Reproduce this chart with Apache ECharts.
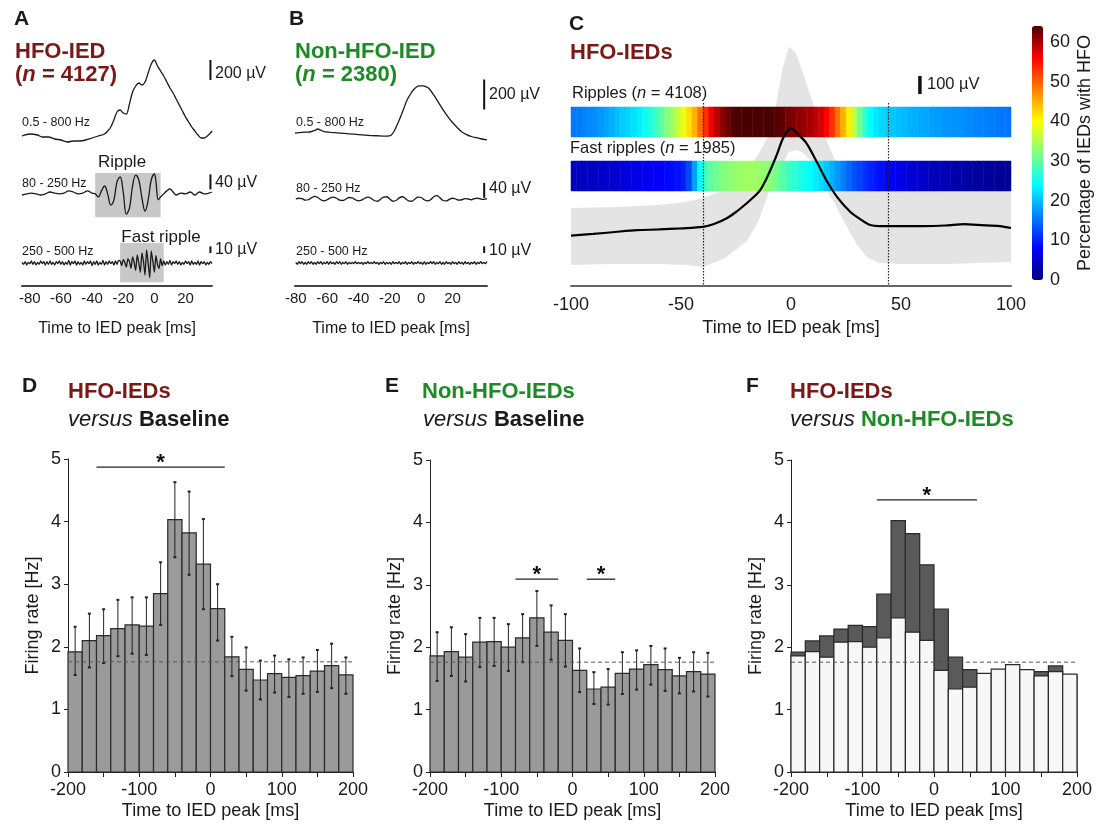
<!DOCTYPE html>
<html>
<head>
<meta charset="utf-8">
<script src="https://cdn.jsdelivr.net/npm/echarts@6/dist/echarts.min.js"></script>
<style>
html, body { margin: 0; padding: 0; background: #fff; }
#main { width: 1097px; height: 824px; }
</style>
</head>
<body>
<div id="main"></div>
<script>
// ---- panel A : HFO-IED averages (µV), times in ms ----
var tA1 = [-85,-80,-75,-72,-68,-64,-60,-56,-52,-48,-44,-40,-36,-32,-30,-28,-26,-24,-22,-20,-18,-16,-14,-12,-10,-8,-6,-4,-2,0,2,4,6,8,10,12,14,16,18,20,22,24,26,28,30,32,34,36,37];
var vA1 = [140,160,150,130,130,110,100,80,90,90,100,120,140,160,190,230,300,380,400,370,360,460,580,640,670,650,680,770,860,900,840,790,740,680,620,570,510,450,390,330,280,230,190,150,120,120,140,170,190];
var tA2 = [-85,-82,-79,-76,-73,-70,-67,-64,-61,-58,-55,-52,-49,-46,-43,-40,-38,-36,-34,-32,-30,-28,-26,-24,-22,-20,-18,-16,-14,-12,-10,-8,-6,-4,-2,0,1,2.5,4,6,8,10,12,14,17,20,23,26,29,32,35,37];
var vA2 = [0,3,5,3,0,3,8,5,3,5,11,8,3,5,11,5,3,-5,11,24,3,-27,-13,35,48,8,-51,-35,24,53,40,-8,-43,-13,40,56,35,-13,-5,3,11,16,8,0,5,3,8,0,8,3,5,8];
var A3_start = -85, A3_step = 1;
var vA3 = [1,-2,2,-3,1,-1,3,-2,2,-3, 1,-2,3,-1,2,-3,2,-2,3,-2, 1,-3,2,-1,3,-2,2,-3,1,-2,
           4,-3,2,-1,3,-3,2,-2,1,-3, 3,-2,2,-1,3,-4,2,-2,3,-3, 1,-2,4,-3,2,-2,3,-1,2,-3, 3,-2,4,
           3,-4,5,1,-6,6,2,-8,9,1, -11,12,0,-14,15,2,-18,20,0,-22, 18,3,-14,11,-2,-8,6,-4,
           3,-3,2,-2,4,-3,2,-1,3,-2, 2,-3,1,-2,3,-1,2,-3,3,-2, 1,-2,3,-3,2,-1,2,-3,1,-2, 2,-1];
var rippleWin = [-38, 4];
var fastWin = [-22, 6];

// ---- panel B : non-HFO-IED averages ----
var tB1 = [-80.5,-76,-71,-68,-66,-64,-62,-58,-52,-46,-40,-34,-28,-22,-19,-17,-15,-13,-11,-9,-7,-5,-3,-1,1,3,5,8,11,14,17,20,23,26,29,32,35,38,42];
var vB1 = [113,118,120,130,140,132,122,118,113,108,103,98,95,93,100,130,175,225,280,333,370,400,420,427,427,423,410,367,318,267,222,183,150,120,103,90,82,75,67];
var B2_start = -80, B2_step = 2;
var vB2 = [0,2,1,-3,-2,3,7,4,-2,-5,-2,3,5,2,-3,-4,0,4,3,-2,-5,-3,2,5,2,-4,-6,-1,5,6,0,-6,-4,3,6,1,-5,-6,0,5,4,-2,-5,-2,6,9,3,-4,-5,-1,2,0,-3,-2,1,0,-2,1,2,0,-1,1];
var B3_start = -80, B3_step = 1;
var vB3 = [1,-2,2,-1,2,-2,1,-2,2,-1, 2,-2,1,-2,2,-1,2,-2,1,-1, 2,-2,2,-1,1,-2,2,-1,2,-2, 1,-1,2,-2,1,-1,1,-1,2,-1,
           1,-1,1,-2,1,-1,2,-1,1,-1, 2,-1,1,-2,1,-1,2,-2,1,-1, 1,-2,2,-1,1,-1,2,-2,1,-1, 2,-2,1,-1,2,-2,1,-1,2,-1,
           1,-2,2,-2,1,-1,2,-1,2,-2, 1,-1,2,-2,1,-2,2,-1,1,-2, 2,-1,1,-2,2,-1,1,-2,2,-1, 1,-2,1,-1,2,-2,1,-1,2,-1, 1,-1,2];

// ---- panel C : mean HFO-IED (µV) with SD band, HFO occurrence (%) ----
var tC = [-100,-90,-80,-70,-60,-50,-40,-35,-29,-25,-20,-17,-14,-11,-8,-6,-4,-2,0,3,7,12,16,21,27,32,36,40,44,60,70,79,85,95,100];
var meanC = [0,9,20,30,34,40,48,64,98,131,181,214,253,320,403,464,531,575,597,564,514,403,309,214,131,87,59,53,53,53,56,64,59,53,42];
var tBand = [-100,-80,-60,-48,-40,-30,-20,-15,-10,-7,-4,-1,2,5,8,12,16,20,25,30,35,40,50,70,100];
var bandUp = [153,159,170,187,209,253,364,448,559,714,920,1048,1020,920,809,670,531,420,337,281,264,253,253,253,253];
var bandLo = [-163,-158,-158,-163,-174,-124,-30,76,242,320,392,464,476,464,431,353,253,176,59,-52,-124,-152,-158,-158,-147];
var hfoWindow = [-40, 44];
// 2.5 ms bins from -100 to 100
var rippleBins = [15.5,15.8,16.2,16.6, 17,17.5,18.2,19, 20,20.8,21.5,22.3, 23.2,24.5,26,28, 30,32,34,36.5,
                  39,42,45,49, 53,56.5,59,61, 62.5,63.5,64,64, 64,64,64,64, 64,63.5,63,62,
                  61.5,61,60.5,60, 59,58,56,53, 49,45,41,36, 31,27,24,22.5, 21.5,21,20.5,20,
                  19.7,19.3,19,18.7, 18.4,18.1,17.8,17.6, 17.4,17.2,17,16.8, 16.6,16.4,16.2,16, 15.8,15.6,15.4,15.2];
var fastBins = [4,4,4,4.2, 4.3,4.5,4.8,5, 5.3,5.6,6,6.3, 6.6,7,7.3,7.6, 8,8.3,8.6,9,
                10,12.5,18,24, 28,30,31,32, 32.5,33,33.5,34, 34,34,33.5,33, 32,31,29.5,28,
                27,26,25,24, 23,22,20.5,19, 17.5,16,14.5,13, 12,11,10,9.3, 8.6,8,7.4,6.8,
                6.2,5.7,5.2,4.8, 4.4,4,3.7,3.4, 3.1,2.9,2.7,2.5, 2.3,2.1,2,1.8, 1.7,1.5,1.4,1.3];

// ---- panels D-F : firing rates (Hz), 20 ms bins ----
var binCenters = [-190,-170,-150,-130,-110,-90,-70,-50,-30,-10,10,30,50,70,90,110,130,150,170,190];
var hfoRate  = [1.92,2.10,2.18,2.29,2.35,2.33,2.85,4.03,3.82,3.32,2.61,1.84,1.64,1.47,1.57,1.51,1.54,1.61,1.70,1.55];
var hfoErrHi = [2.32,2.53,2.60,2.75,2.79,2.79,3.35,4.63,4.48,4.04,3.00,2.16,1.99,1.78,1.86,1.80,1.83,1.95,2.05,1.83];
var hfoErrLo = [1.55,1.67,1.74,1.85,1.89,1.87,2.35,3.43,3.15,2.60,2.10,1.53,1.30,1.16,1.27,1.20,1.25,1.28,1.34,1.25];
var nonRate  = [1.86,1.93,1.84,2.08,2.09,2.00,2.15,2.47,2.24,2.11,1.63,1.33,1.36,1.58,1.65,1.72,1.64,1.54,1.61,1.57];
var nonErrHi = [2.24,2.32,2.21,2.47,2.47,2.37,2.53,2.90,2.67,2.53,1.98,1.60,1.65,1.92,1.95,2.02,1.98,1.83,1.92,1.91];
var nonErrLo = [1.46,1.54,1.45,1.68,1.70,1.62,1.76,2.02,1.80,1.69,1.28,1.09,1.08,1.25,1.32,1.40,1.30,1.26,1.29,1.21];
var baselineRate = 1.76;
var sigD = [[-160, 20, 4.87]];
var sigE = [[-80, -20, 3.09], [20, 60, 3.09]];
var sigF = [[-80, 60, 4.36]];

var FONT = 'Arial, "Liberation Sans", Helvetica, sans-serif';
var RED = '#7b1818', GREEN = '#1d8a26', INK = '#1a1a1a';
var jet = ['#000080', '#0000ff', '#0080ff', '#00ffff', '#80ff80', '#ffff00', '#ff8000', '#ff0000', '#4a0000'];

function zip(t, v) { return t.map(function (x, i) { return [x, v[i]]; }); }
function sampled(t0, dt, v) { return v.map(function (y, i) { return [t0 + i * dt, y]; }); }

var chart = echarts.init(document.getElementById('main'));

function hidden(i, min, max) { return { gridIndex: i, type: 'value', min: min, max: max, show: false }; }

function traceTime(i, min, max) {
    return {
        gridIndex: i, type: 'value', min: min, max: max, offset: 3,
        axisLine: { onZero: false, lineStyle: { color: '#444', width: 2 } },
        axisTick: { show: false }, splitLine: { show: false },
        axisLabel: { customValues: [-80, -60, -40, -20, 0, 20], fontSize: 15, color: INK, fontFamily: FONT, margin: 5 },
        name: 'Time to IED peak [ms]', nameLocation: 'middle', nameGap: 35,
        nameTextStyle: { fontSize: 16, color: INK, fontFamily: FONT }
    };
}

function rateX(i) {
    return {
        gridIndex: i, type: 'value', min: -200, max: 200, interval: 50,
        axisLine: { onZero: false, lineStyle: { color: '#222', width: 1 } },
        axisTick: { show: true, length: 5, lineStyle: { color: '#222' } },
        splitLine: { show: false },
        axisLabel: { fontSize: 18, color: INK, fontFamily: FONT, margin: 9,
            formatter: function (v) { return v % 100 === 0 ? String(v) : ''; } },
        name: 'Time to IED peak [ms]', nameLocation: 'middle', nameGap: 30,
        nameTextStyle: { fontSize: 18, color: INK, fontFamily: FONT }
    };
}
function rateY(i) {
    return {
        gridIndex: i, type: 'value', min: 0, max: 5, interval: 1,
        axisLine: { show: true, onZero: false, lineStyle: { color: '#222', width: 1 } },
        axisTick: { show: true, length: 4, lineStyle: { color: '#222' } },
        splitLine: { show: false },
        axisLabel: { fontSize: 18, color: INK, fontFamily: FONT, margin: 7 },
        name: 'Firing rate [Hz]', nameLocation: 'middle', nameGap: 26,
        nameTextStyle: { fontSize: 18, color: INK, fontFamily: FONT }
    };
}

function trace(g, data, smooth) {
    return { type: 'line', xAxisIndex: g, yAxisIndex: g, data: data, symbol: 'none', smooth: smooth,
        lineStyle: { color: '#1a1a1a', width: 1.3 }, silent: true, z: 3 };
}
function scaleBar(g, t, from, to, w) {
    return { type: 'line', xAxisIndex: g, yAxisIndex: g, data: [[t, from], [t, to]], symbol: 'none',
        clip: false, silent: true, lineStyle: { color: '#111', width: w || 2 }, z: 4 };
}

function barSeries(g, rates, fill) {
    return {
        type: 'custom', xAxisIndex: g, yAxisIndex: g, silent: true, z: 2,
        data: zip(binCenters, rates), encode: { x: 0, y: 1 },
        renderItem: function (params, api) {
            var x = api.value(0), v = api.value(1);
            var p0 = api.coord([x - 10, 0]), p1 = api.coord([x + 10, v]);
            return { type: 'rect', shape: { x: p0[0], y: p1[1], width: p1[0] - p0[0], height: p0[1] - p1[1] },
                style: { fill: fill, stroke: '#2a2a2a', lineWidth: 1.2 } };
        }
    };
}
function errSeries(g, lo, hi) {
    return {
        type: 'custom', xAxisIndex: g, yAxisIndex: g, silent: true, z: 3,
        data: binCenters.map(function (x, i) { return [x, lo[i], hi[i]]; }), encode: { x: 0, y: [1, 2] },
        renderItem: function (params, api) {
            var x = api.value(0);
            var a = api.coord([x, api.value(1)]), b = api.coord([x, api.value(2)]);
            return { type: 'group', children: [
                { type: 'line', shape: { x1: a[0], y1: a[1], x2: b[0], y2: b[1] }, style: { stroke: '#222', lineWidth: 1 } },
                { type: 'line', shape: { x1: a[0] - 1.5, y1: a[1], x2: a[0] + 1.5, y2: a[1] }, style: { stroke: '#222', lineWidth: 2 } },
                { type: 'line', shape: { x1: b[0] - 1.5, y1: b[1], x2: b[0] + 1.5, y2: b[1] }, style: { stroke: '#222', lineWidth: 2 } }
            ] };
        }
    };
}
function baseSeries(g) {
    return { type: 'line', xAxisIndex: g, yAxisIndex: g, data: [[-200, baselineRate], [200, baselineRate]],
        symbol: 'none', silent: true, z: 6, lineStyle: { color: '#555', width: 1, type: [4, 3] } };
}
function sigSeries(g, sig) {
    return {
        type: 'custom', xAxisIndex: g, yAxisIndex: g, silent: true, z: 6,
        data: sig, encode: { x: [0, 1], y: 2 },
        renderItem: function (params, api) {
            var y = api.value(2);
            var a = api.coord([api.value(0), y]), b = api.coord([api.value(1), y]);
            return { type: 'group', children: [
                { type: 'line', shape: { x1: a[0], y1: a[1], x2: b[0], y2: b[1] }, style: { stroke: '#222', lineWidth: 1.3 } },
                { type: 'text', x: (a[0] + b[0]) / 2, y: a[1] - 4,
                  style: { text: '*', fill: '#111', font: 'bold 22px ' + FONT, align: 'center', verticalAlign: 'middle' } }
            ] };
        }
    };
}

var binNames = rippleBins.map(function (v, i) { return 'b' + i; });

var series = [
    trace(0, zip(tA1, vA1), 0.3),
    Object.assign(trace(1, zip(tA2, vA2), 0.4), {
        markArea: { silent: true, itemStyle: { color: '#c8c8c8' },
            data: [[{ coord: [rippleWin[0], 59] }, { coord: [rippleWin[1], -59] }]] } }),
    Object.assign(trace(2, sampled(A3_start, A3_step, vA3), 0.2), {
        markArea: { silent: true, itemStyle: { color: '#c8c8c8' },
            data: [[{ coord: [fastWin[0], 30] }, { coord: [fastWin[1], -29] }]] } }),
    trace(3, zip(tB1, vB1), 0.3),
    trace(4, sampled(B2_start, B2_step, vB2), 0.4),
    trace(5, sampled(B3_start, B3_step, vB3), 0.2),
    // C: SD band (6) drawn as one polygon, mean (7)
    { type: 'custom', xAxisIndex: 6, yAxisIndex: 6, silent: true, z: 1,
      data: tBand.map(function (t, i) { return [t, bandLo[i], bandUp[i]]; }), encode: { x: 0, y: [1, 2] },
      renderItem: function (params, api) {
          if (params.dataIndex !== 0) return null;
          var pts = [], i;
          for (i = 0; i < tBand.length; i++) pts.push(api.coord([tBand[i], bandUp[i]]));
          for (i = tBand.length - 1; i >= 0; i--) pts.push(api.coord([tBand[i], bandLo[i]]));
          return { type: 'polygon', shape: { points: pts }, style: { fill: '#e4e4e4' } };
      } },
    { type: 'line', xAxisIndex: 6, yAxisIndex: 6, data: zip(tC, meanC), symbol: 'none', smooth: 0.3,
      lineStyle: { color: '#000', width: 2.2 }, silent: true, z: 5,
      markLine: { silent: true, symbol: 'none', label: { show: false },
        lineStyle: { color: '#222', width: 1.2, type: [1.5, 1.5] },
        data: hfoWindow.map(function (t) { return [{ coord: [t, 737] }, { coord: [t, -280] }]; }) } },
    // C heat rows (8,9)
    { type: 'heatmap', xAxisIndex: 7, yAxisIndex: 7, data: rippleBins.map(function (v, i) { return [i, 0, v]; }),
      itemStyle: { borderWidth: 0 }, silent: true, z: 3 },
    { type: 'heatmap', xAxisIndex: 8, yAxisIndex: 8, data: fastBins.map(function (v, i) { return [i, 0, v]; }),
      itemStyle: { borderWidth: 0 }, silent: true, z: 3 },
    // scale bars
    scaleBar(0, 36, 700, 900), scaleBar(1, 36, 15, 55), scaleBar(2, 36, 15, 25),
    scaleBar(3, 40.2, 270, 470), scaleBar(4, 40.2, 3, 43), scaleBar(5, 40.2, 15, 25),
    scaleBar(6, 58.6, 787, 887, 3.5),
    // D
    barSeries(10, hfoRate, '#9a9a9a'), errSeries(10, hfoErrLo, hfoErrHi), baseSeries(10), sigSeries(10, sigD),
    // E
    barSeries(11, nonRate, '#9a9a9a'), errSeries(11, nonErrLo, nonErrHi), baseSeries(11), sigSeries(11, sigE),
    // F
    barSeries(12, hfoRate, '#5a5a5a'), barSeries(12, nonRate, '#f7f7f7'), baseSeries(12), sigSeries(12, sigF)
];

function txt(x, y, text, size, opts) {
    opts = opts || {};
    return { type: 'text', x: x, y: y, silent: true, z: 100,
        style: { text: text, fill: opts.fill || INK, align: opts.align || 'left', verticalAlign: 'middle',
            font: (opts.weight || 'normal') + ' ' + size + 'px ' + FONT, rich: opts.rich } };
}
function richTitle(x, y, text, color) {
    return txt(x, y, text, 22, { weight: 'bold', fill: color, rich: {
        i: { fontStyle: 'italic', fontWeight: 'bold', fontSize: 22, fontFamily: FONT, fill: color, color: color },
        v: { fontStyle: 'italic', fontWeight: 'normal', fontSize: 22, fontFamily: FONT, fill: INK, color: INK },
        k: { fontWeight: 'bold', fontSize: 22, fontFamily: FONT, fill: INK, color: INK },
        g: { fontWeight: 'bold', fontSize: 22, fontFamily: FONT, fill: GREEN, color: GREEN }
    } });
}
var nItal = { i: { fontStyle: 'italic', fontSize: 16.5, fontFamily: FONT, fill: INK, color: INK } };

var texts = [
    txt(14, 19, 'A', 21, { weight: 'bold' }),
    richTitle(15, 52, 'HFO-IED', RED),
    richTitle(15, 75, '({i|n} = 4127)', RED),
    txt(289, 19, 'B', 21, { weight: 'bold' }),
    richTitle(295, 52, 'Non-HFO-IED', GREEN),
    richTitle(295, 75, '({i|n} = 2380)', GREEN),
    txt(569, 24, 'C', 21, { weight: 'bold' }),
    richTitle(570, 53, 'HFO-IEDs', RED),
    txt(572, 93, 'Ripples ({i|n} = 4108)', 16.5, { rich: nItal }),
    txt(570, 148, 'Fast ripples ({i|n} = 1985)', 16.5, { rich: nItal }),
    txt(927, 84, '100 µV', 16.5),
    txt(22, 123, '0.5 - 800 Hz', 12.5), txt(22, 184, '80 - 250 Hz', 12.5), txt(22, 252, '250 - 500 Hz', 12.5),
    txt(122, 162, 'Ripple', 17, { align: 'center' }), txt(161, 237, 'Fast ripple', 17, { align: 'center' }),
    txt(215, 74, '200 µV', 16), txt(215, 183, '40 µV', 16), txt(215, 250, '10 µV', 16),
    txt(296, 123, '0.5 - 800 Hz', 12.5), txt(296, 189, '80 - 250 Hz', 12.5), txt(296, 252, '250 - 500 Hz', 12.5),
    txt(489, 95, '200 µV', 16), txt(489, 189, '40 µV', 16), txt(489, 251, '10 µV', 16),
    txt(22, 386, 'D', 21, { weight: 'bold' }),
    richTitle(68, 392, 'HFO-IEDs', RED),
    richTitle(68, 420, '{v|versus} {k|Baseline}', INK),
    txt(385, 386, 'E', 21, { weight: 'bold' }),
    richTitle(422, 392, 'Non-HFO-IEDs', GREEN),
    richTitle(423, 420, '{v|versus} {k|Baseline}', INK),
    txt(746, 386, 'F', 21, { weight: 'bold' }),
    richTitle(790, 392, 'HFO-IEDs', RED),
    richTitle(790, 420, '{v|versus} {g|Non-HFO-IEDs}', INK)
];

var option = {
    backgroundColor: '#fff',
    animation: false,
    textStyle: { fontFamily: FONT },
    grid: [
        { left: 22, top: 50, width: 190, height: 100 },
        { left: 22, top: 165, width: 190, height: 60 },
        { left: 22, top: 243, width: 190, height: 40 },
        { left: 295, top: 60, width: 192, height: 90 },
        { left: 295, top: 169, width: 192, height: 60 },
        { left: 295, top: 243, width: 192, height: 40 },
        { left: 571, top: 26, width: 440, height: 260 },
        { left: 571, top: 107, width: 440, height: 30 },
        { left: 571, top: 161, width: 440, height: 30 },
        { left: 1032, top: 26, width: 11, height: 254 },
        { left: 68, top: 459, width: 285, height: 313 },
        { left: 430, top: 460, width: 285, height: 312 },
        { left: 791, top: 460, width: 286, height: 312 }
    ],
    xAxis: [
        hidden(0, -85, 37), hidden(1, -85, 37), traceTime(2, -85, 37),
        hidden(3, -80.5, 42), hidden(4, -80.5, 42), traceTime(5, -80.5, 42),
        { gridIndex: 6, type: 'value', min: -100, max: 100, interval: 50,
          axisLine: { onZero: false, lineStyle: { color: '#666', width: 2 } },
          axisTick: { show: false }, splitLine: { show: false },
          axisLabel: { fontSize: 18, color: INK, fontFamily: FONT, margin: 10 },
          name: 'Time to IED peak [ms]', nameLocation: 'middle', nameGap: 33,
          nameTextStyle: { fontSize: 18, color: INK, fontFamily: FONT } },
        { gridIndex: 7, type: 'category', data: binNames, show: false },
        { gridIndex: 8, type: 'category', data: binNames, show: false },
        hidden(9, 0, 1),
        rateX(10), rateX(11), rateX(12)
    ],
    yAxis: [
        hidden(0, 0, 1000), hidden(1, -80, 80), hidden(2, -30, 30),
        hidden(3, 0, 600), hidden(4, -80, 80), hidden(5, -30, 30),
        hidden(6, -280, 1164),
        { gridIndex: 7, type: 'category', data: ['ripples'], show: false },
        { gridIndex: 8, type: 'category', data: ['fast'], show: false },
        { gridIndex: 9, type: 'value', min: 0, max: 64, interval: 10, position: 'right',
          axisLine: { show: false }, axisTick: { show: false }, splitLine: { show: false },
          axisLabel: { fontSize: 18, color: INK, fontFamily: FONT, margin: 7, showMaxLabel: false },
          name: 'Percentage of IEDs with HFO', nameLocation: 'middle', nameRotate: 90, nameGap: 33,
          nameTextStyle: { fontSize: 18, color: INK, fontFamily: FONT } },
        rateY(10), rateY(11), rateY(12)
    ],
    visualMap: {
        type: 'continuous', min: 0, max: 64, seriesIndex: [8, 9], dimension: 2,
        inRange: { color: jet }, calculable: false, hoverLink: false,
        left: 1032, top: 26, itemWidth: 11, itemHeight: 254, padding: 0, text: null
    },
    series: series,
    graphic: { elements: texts }
};

chart.setOption(option);
</script>
</body>
</html>
